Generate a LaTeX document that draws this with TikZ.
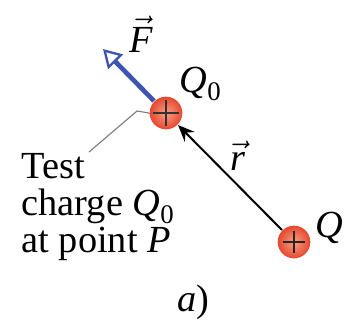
\documentclass[tikz,border=0pt]{standalone}
\usepackage{amsmath}
\usepackage{fontspec}
\setmainfont{Liberation Serif}
\usetikzlibrary{arrows.meta,positioning}

\definecolor{chargered}{RGB}{228,72,48}
\definecolor{chargelight}{RGB}{250,160,130}
\definecolor{forceblue}{RGB}{62,84,178}

\newcommand{\qsym}[1]{$\textit{#1}$}
\newcommand{\qsub}[2]{$\textit{#1}_{\text{#2}}$}

\tikzset{
  charge/.style={circle,minimum size=9.8pt,inner sep=0pt,
    shading=radial,inner color=chargelight,outer color=chargered},
  lbl/.style={font=\fontsize{11.5}{11.1}\selectfont,inner sep=0pt}
}

\begin{document}
\begin{tikzpicture}[x=0.3pt,y=-0.3pt]
\useasboundingbox (0,0) rectangle (345,325);
\node[charge] (q0) at (166,113) {};
\node[charge] (q) at (294,242) {};
\draw[line width=0.45pt,black!80] (q0.center)+(-13,0) -- +(13,0) (q0.center)+(0,-13) -- +(0,13);
\draw[line width=0.55pt,black!85] (q.center)+(-11,0) -- +(11,0) (q.center)+(0,-11) -- +(0,11);
% force on the test charge
\coordinate (ftip) at (103,49);
\draw[forceblue,line width=1.4pt,-{Triangle[open,length=5.4pt,width=6.2pt,line width=0.7pt]}] (q0.135) -- (ftip);
% separation vector
\draw[line width=0.6pt,-{Stealth[length=5pt,width=4.2pt,inset=1.8pt]}] (q.135) -- (q0.-45);
\node[lbl] (flbl) at (141,34) {$\vec{\textit{F}}$};
\node[lbl] (q0lbl) at (201,84) {\qsub{Q}{0}};
\node[lbl] (rlbl) at (238,156) {$\vec{\textit{r}}$};
\node[lbl] (qlbl) at (329,228) {\qsym{Q}};
% leader to the description
\coordinate (bend) at (137,111);
\coordinate (lend) at (89,152);
\draw[gray,line width=0.35pt] (q0.180) -- (bend) -- (lend);
\node[lbl,align=left,anchor=north west] (desc) at (21,153)
  {Test\\charge \qsub{Q}{0}\\at point \qsym{P}};
\node[lbl] (cap) at (193,302) {\textit{a})};
\end{tikzpicture}
\end{document}
